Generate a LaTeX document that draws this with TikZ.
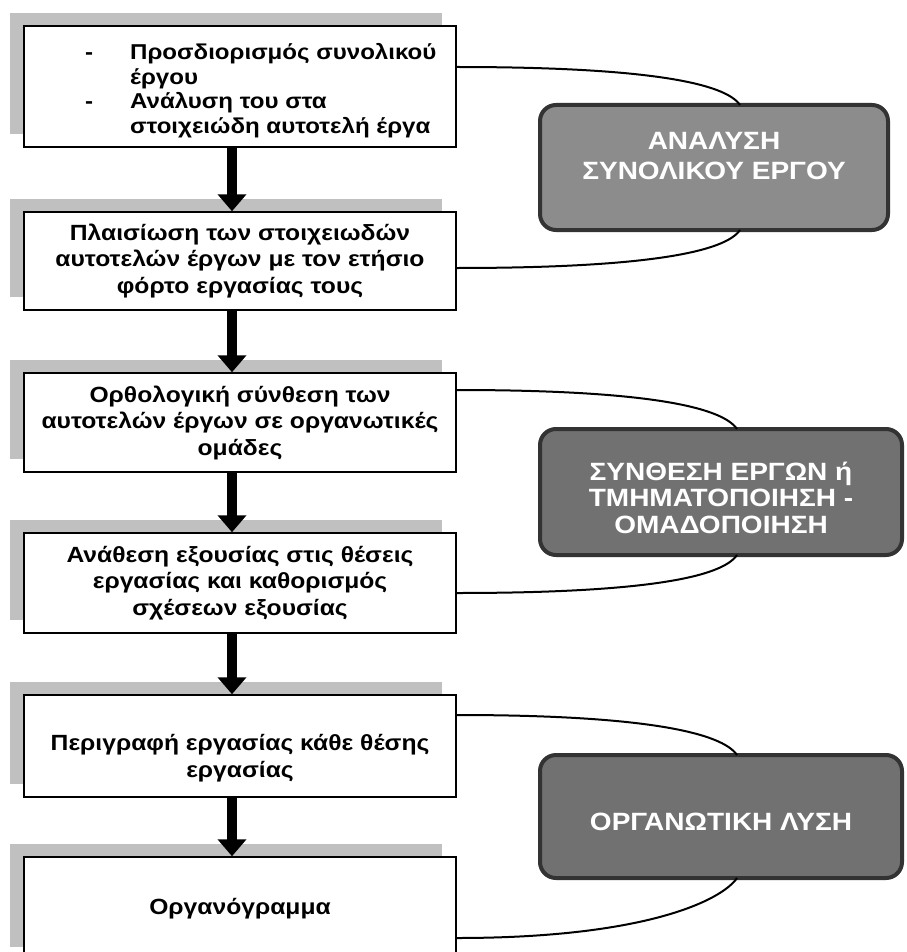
\documentclass[tikz,border=0pt]{standalone}
\usepackage{fontspec}
\setmainfont{Liberation Sans}
\newfontfamily\widesans[FakeStretch=1.12]{Liberation Sans}
\usetikzlibrary{arrows.meta,shadows}
\definecolor{shadowgray}{RGB}{192,192,192}
\definecolor{boxA}{RGB}{140,140,140}
\definecolor{boxBC}{RGB}{113,113,113}
\definecolor{rborder}{RGB}{51,51,51}
\begin{document}
\begin{tikzpicture}[x=1pt,y=-1pt,
  flowbox/.style={draw=black, line width=1.5pt, fill=white, minimum width=432pt,
    inner sep=0pt, general shadow={fill=shadowgray, draw=none, shadow xshift=-14pt, shadow yshift=13pt},
    font=\widesans\fontsize{22}{26.5}\selectfont\bfseries, align=center},
  boxtext/.style={inner sep=0pt, font=\widesans\fontsize{22}{26.5}\selectfont\bfseries, align=center},
  rbox/.style={draw=rborder, line width=4pt, rounded corners=16pt, inner sep=0pt},
  rtext/.style={inner sep=0pt, text=white, font=\widesans\fontsize{25}{29}\selectfont\bfseries, align=center},
  bigarrow/.style={line width=10pt, -{Triangle[width=28pt,length=17pt]}},
  link/.style={line width=2pt}
]
\useasboundingbox (0,0) rectangle (906,952);
\clip (0,0) rectangle (906,952);

% left flow boxes
\node[flowbox, minimum height=121pt] (b1) at (240,86.5) {};
\node[boxtext, anchor=west, align=left, font=\widesans\fontsize{21.5}{24.5}\selectfont\bfseries] (t1) at (85,91.5)
  {\begin{tabular}{@{}p{45pt}@{}l@{}}-&Προσδιορισμός συνολικού\\&έργου\\-&Ανάλυση του στα\\&στοιχειώδη αυτοτελή έργα\end{tabular}};

\node[flowbox, minimum height=98pt] (b2) at (240,261)
  {Πλαισίωση των στοιχειωδών\\αυτοτελών έργων με τον ετήσιο\\φόρτο εργασίας τους};

\node[flowbox, minimum height=99pt] (b3) at (240,422.5)
  {Ορθολογική σύνθεση των\\αυτοτελών έργων σε οργανωτικές\\ομάδες};

\node[flowbox, minimum height=100pt] (b4) at (240,583)
  {Ανάθεση εξουσίας στις θέσεις\\εργασίας και καθορισμός\\σχέσεων εξουσίας};

\node[flowbox, minimum height=102pt] (b5) at (240,746) {};
\node[boxtext] (t5) at ([yshift=-12pt]b5.center) {Περιγραφή εργασίας κάθε θέσης\\εργασίας};

\node[flowbox, minimum height=103pt] (b6) at (240,908.5) {Οργανόγραμμα};

% arrows
\draw[bigarrow] ([xshift=-8pt]b1.south) -- ([xshift=-8pt]b2.north);
\draw[bigarrow] ([xshift=-8pt]b2.south) -- ([xshift=-8pt]b3.north);
\draw[bigarrow] ([xshift=-8pt]b3.south) -- ([xshift=-8pt]b4.north);
\draw[bigarrow] ([xshift=-8pt]b4.south) -- ([xshift=-8pt]b5.north);
\draw[bigarrow] ([xshift=-8pt]b5.south) -- ([xshift=-8pt]b6.north);

% right rounded boxes
\node[rbox, fill=boxA, minimum width=348pt, minimum height=125pt] (A) at (714,167.5) {};
\node[rtext, font=\widesans\fontsize{25}{30}\selectfont\bfseries] (tA) at ([yshift=11.5pt]A.center) {ΑΝΑΛΥΣΗ\\ΣΥΝΟΛΙΚΟΥ ΕΡΓΟΥ};

\node[rbox, fill=boxBC, minimum width=362pt, minimum height=126pt] (B) at (721,492) {};
\node[rtext, font=\widesans\fontsize{25}{26.5}\selectfont\bfseries] (tB) at ([yshift=-5.5pt]B.center) {ΣΥΝΘΕΣΗ ΕΡΓΩΝ ή\\ΤΜΗΜΑΤΟΠΟΙΗΣΗ -\\ΟΜΑΔΟΠΟΙΗΣΗ};

\node[rbox, fill=boxBC, minimum width=362pt, minimum height=123pt] (C) at (721,816.5) {};
\node[rtext] (tC) at ([yshift=-5pt]C.center) {ΟΡΓΑΝΩΤΙΚΗ ΛΥΣΗ};

% links
\draw[link] ([yshift=19.5pt]b1.east) .. controls +(190,0) and +(-15,-22) .. ([xshift=26pt,yshift=-2pt]A.north);
\draw[link] ([xshift=26pt,yshift=2pt]A.south) .. controls +(-15,22) and +(190,0) .. ([yshift=-7pt]b2.east);
\draw[link] ([yshift=32.5pt]b3.east) .. controls +(190,0) and +(-15,-22) .. ([xshift=16pt,yshift=-2pt]B.north);
\draw[link] ([xshift=16pt,yshift=2pt]B.south) .. controls +(-15,22) and +(190,0) .. ([yshift=-10pt]b4.east);
\draw[link] ([yshift=31pt]b5.east) .. controls +(190,0) and +(-15,-22) .. ([xshift=16pt,yshift=-2pt]C.north);
\draw[link] ([xshift=16pt,yshift=2pt]C.south) .. controls +(-15,22) and +(190,0) .. ([yshift=-29.5pt]b6.east);
\end{tikzpicture}
\end{document}
